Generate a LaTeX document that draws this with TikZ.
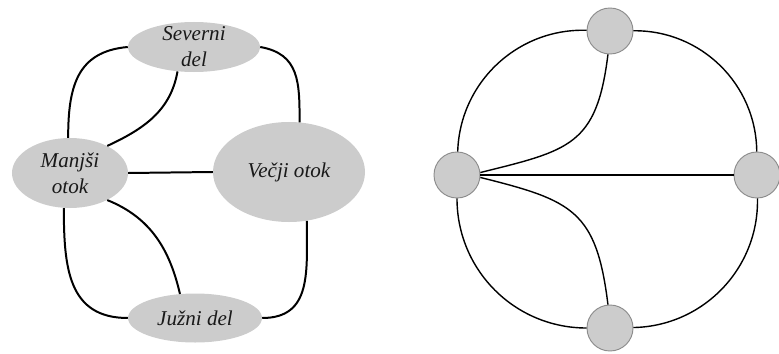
\documentclass[tikz,border=0pt]{standalone}
\usepackage{fontspec}
\setmainfont{Liberation Serif}
\usepackage{tikz}
\usetikzlibrary{shapes.geometric}

\begin{document}
\begin{tikzpicture}[x=0.03cm,y=0.03cm,
		island/.style={ellipse, fill=gray!40, inner sep=0pt},
		islandtext/.style={align=center, text=black!90, font=\fontsize{18}{22}\selectfont\itshape},
		bridge/.style={line width=1.7pt},
		dot/.style={circle, fill=gray!40, draw=gray!90, line width=0.8pt, minimum size=1.38cm, inner sep=0pt},
		link/.style={line width=1.2pt}]
				\useasboundingbox (0,0) rectangle (779,353);
				% left: islands and bridges
				\node[island, minimum width=3.96cm, minimum height=1.5cm] (sev) at (194,306) {};
				\node[island, minimum width=3.48cm, minimum height=2.1cm] (man) at (70,180) {};
				\node[island, minimum width=4.56cm, minimum height=3cm] (vec) at (289,181) {};
				\node[island, minimum width=4.02cm, minimum height=1.47cm] (jun) at (195,35) {};
				\node[islandtext] (sevtext) at (sev) {Severni\\del};
				\node[islandtext] (mantext) at (man) {Manjši\\otok};
				\node[islandtext] (vectext) at (vec) {Večji otok};
				\node[islandtext] (juntext) at (jun) {Južni del};
				\draw[bridge] (sev.west) to[out=185,in=90,looseness=1.2] (man.93);
				\draw[bridge] (sev.-124) to[out=-100,in=25] (man.36);
				\draw[bridge] (sev.east) to[out=-10,in=90,looseness=1.2] (vec.78);
				\draw[bridge] (man.east) -- (vec.west);
				\draw[bridge] (man.-36) to[out=-22,in=103] (jun.122);
				\draw[bridge] (man.-100) to[out=-90,in=180,looseness=1.2] (jun.west);
				\draw[bridge] (vec.-70) to[out=-90,in=0,looseness=1.2] (jun.east);
				% right: graph
				\node[dot] (t) at (610,322) {};
				\node[dot] (l) at (457,178) {};
				\node[dot] (r) at (757,178) {};
				\node[dot] (b) at (610,25) {};
				\draw[link] (l) to[bend left=45] (t);
				\draw[link] (t) to[bend left=45] (r);
				\draw[link] (r) to[bend left=45] (b);
				\draw[link] (b) to[bend left=45] (l);
				\draw[link] (l.6) to[out=14,in=-97,looseness=1.35] (t.-95);
				\draw[link] (l.-6) to[out=-14,in=97,looseness=1.35] (b.95);
				\draw[link] (l) -- (r);
			\end{tikzpicture}
\end{document}
